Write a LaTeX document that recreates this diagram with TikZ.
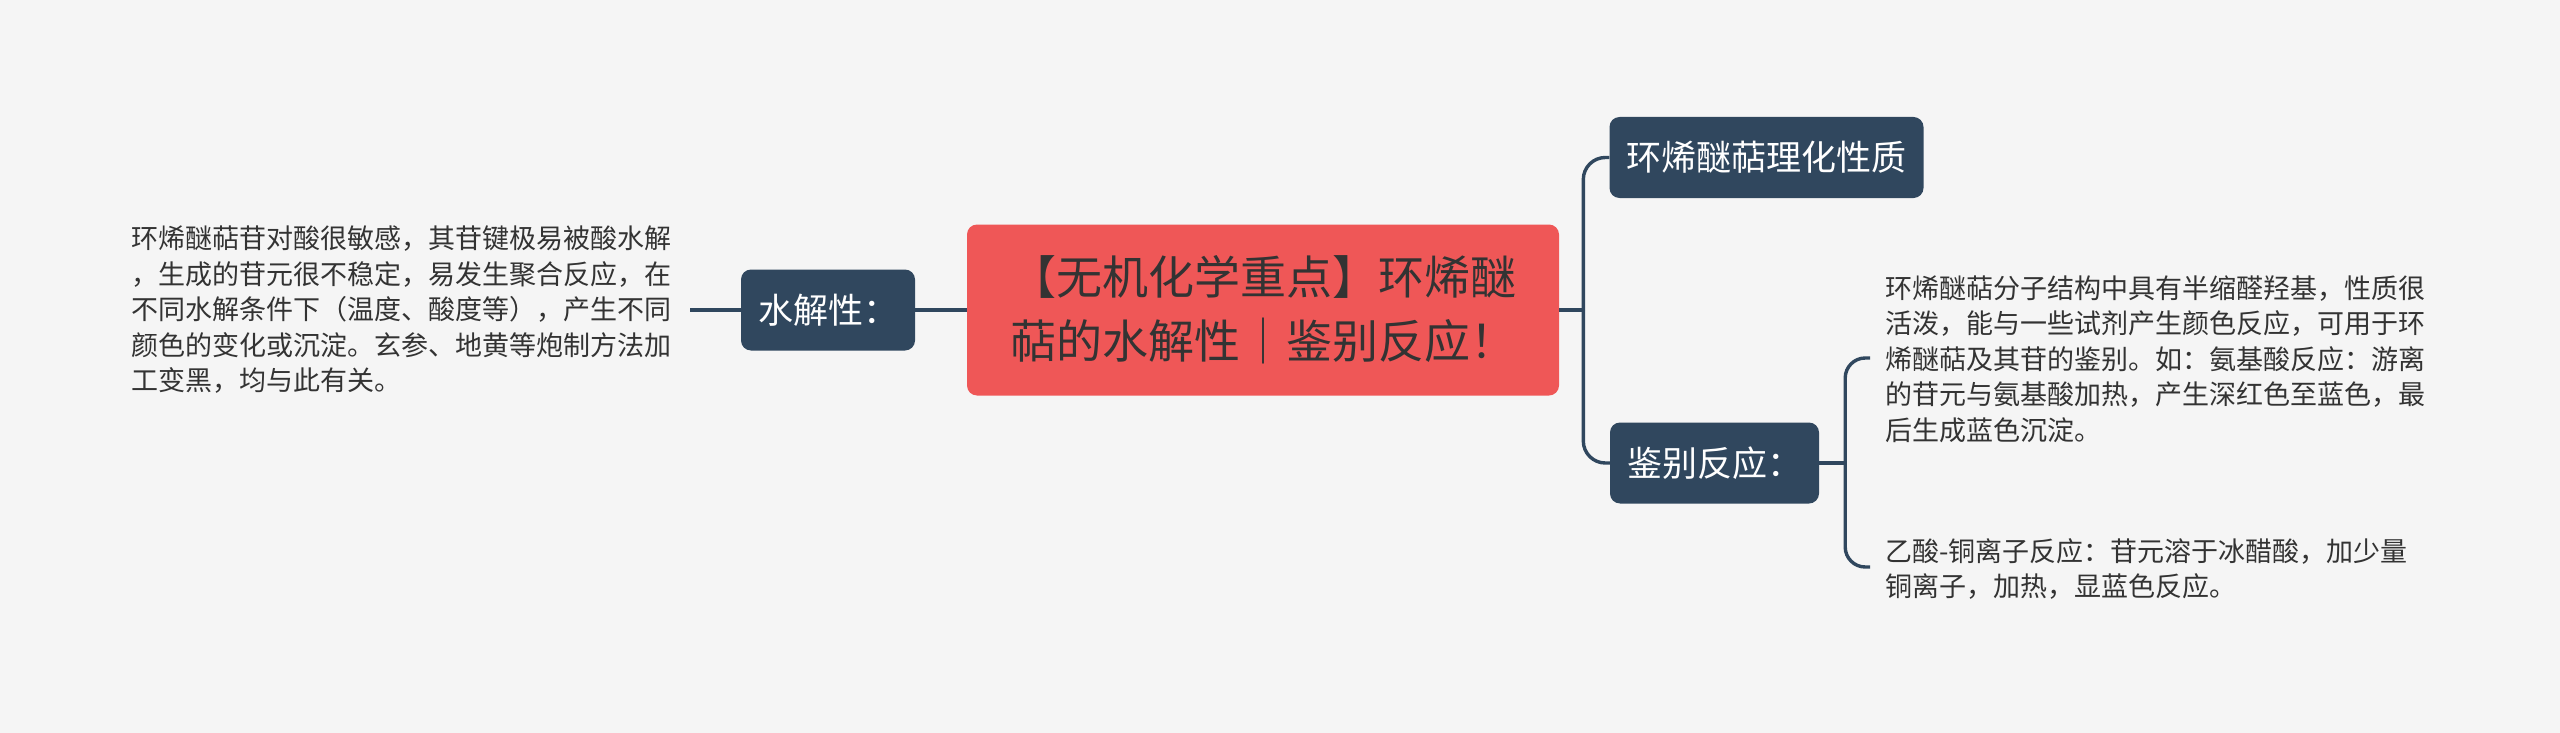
\documentclass[tikz,border=0pt]{standalone}
\usepackage{fontspec}
\setmainfont{Noto Sans CJK SC}
\definecolor{bg}{HTML}{F5F5F5}
\definecolor{rootred}{HTML}{EF5757}
\definecolor{slate}{HTML}{30475E}
\definecolor{ink}{HTML}{333333}
\tikzset{
  rootbox/.style={rectangle, rounded corners=10pt, fill=rootred, text=ink, align=center,
    minimum width=592pt, minimum height=171pt, inner sep=0pt,
    font=\fontsize{46pt}{64pt}\selectfont},
  topicbox/.style={rectangle, rounded corners=10pt, fill=slate, text=white,
    minimum height=81pt, inner xsep=17pt, inner ysep=0pt,
    font=\fontsize{35pt}{42pt}\selectfont},
  plaintext/.style={text=ink, align=left, inner sep=0pt, anchor=west,
    font=\fontsize{27pt}{35.5pt}\selectfont},
  conn/.style={draw=slate, line width=3.4pt}
}
\begin{document}
\begin{tikzpicture}[x=1pt, y=-1pt]
\path[fill=bg] (0,0) rectangle (2560,733);

\node[rootbox] (root) at (1263,310) {【无机化学重点】环烯醚\\萜的水解性｜鉴别反应！};
\node[topicbox] (hyd) at (828,310) {水解性：};
\node[topicbox] (prop) at (1766.5,157.5) {环烯醚萜理化性质};
\node[topicbox] (ident) at (1714.5,463) {鉴别反应：};

\node[plaintext] (lt) at (131,310) {环烯醚萜苷对酸很敏感，其苷键极易被酸水解\\，生成的苷元很不稳定，易发生聚合反应，在\\不同水解条件下（温度、酸度等），产生不同\\颜色的变化或沉淀。玄参、地黄等炮制方法加\\工变黑，均与此有关。};
\node[plaintext] (rt1) at (1885,359) {环烯醚萜分子结构中具有半缩醛羟基，性质很\\活泼，能与一些试剂产生颜色反应，可用于环\\烯醚萜及其苷的鉴别。如：氨基酸反应：游离\\的苷元与氨基酸加热，产生深红色至蓝色，最\\后生成蓝色沉淀。};
\node[plaintext] (rt2) at (1885,569) {乙酸-铜离子反应：苷元溶于冰醋酸，加少量\\铜离子，加热，显蓝色反应。};

\draw[conn] ([xshift=19pt]lt.east) -- (hyd.west);
\draw[conn] (hyd.east) -- (root.west);

\coordinate (s1) at ([xshift=-26pt]prop.west |- root.east);
\draw[conn] (root.east) -- (s1);
\draw[conn, rounded corners=22pt] (s1) |- (prop.west);
\draw[conn, rounded corners=22pt] (s1) |- (ident.west);

\coordinate (s2) at ([xshift=26pt]ident.east);
\draw[conn] (ident.east) -- (s2);
\draw[conn, rounded corners=20pt] (s2) |- ([xshift=-15pt,yshift=1pt]rt1.west);
\draw[conn, rounded corners=20pt] (s2) |- ([xshift=-15pt,yshift=2pt]rt2.west);
\end{tikzpicture}
\end{document}
